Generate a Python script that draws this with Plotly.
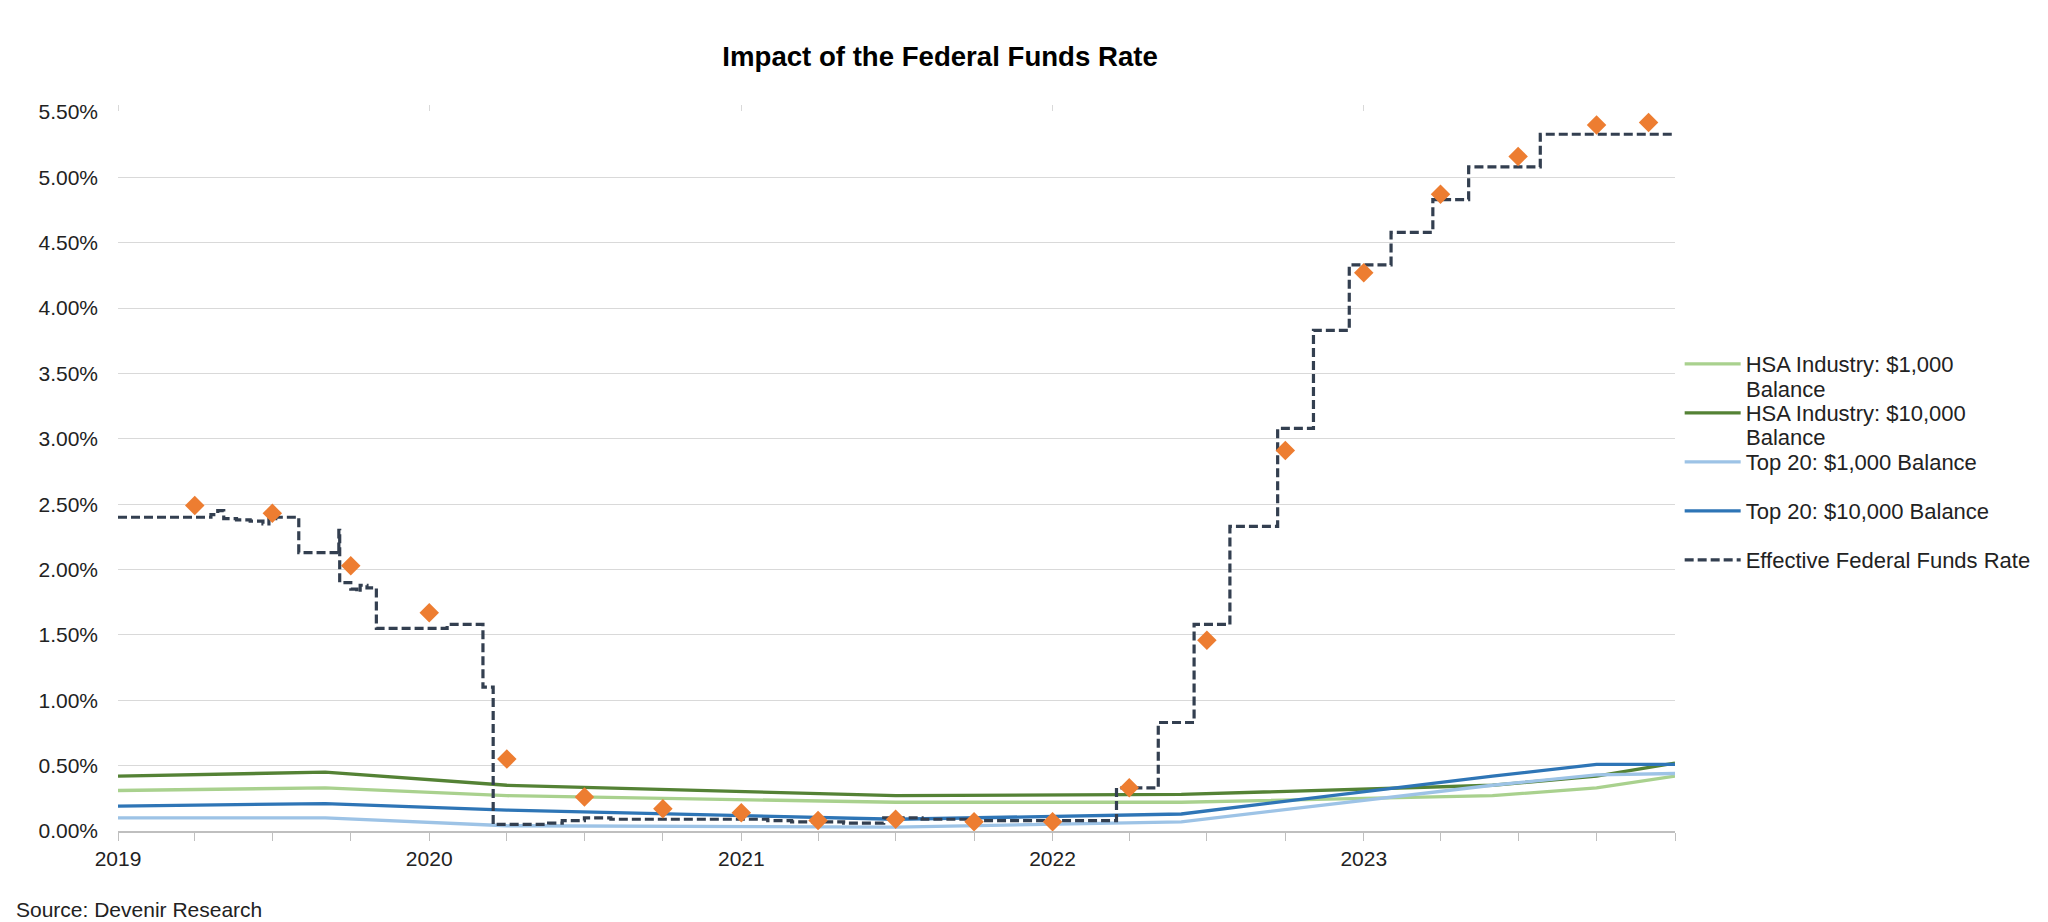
import plotly.graph_objects as go

# ---------------- data ----------------
effr_dates = ["2019-01-01", "2019-04-20", "2019-04-28", "2019-05-05", "2019-05-20", "2019-06-05",
              "2019-06-20", "2019-06-27", "2019-07-05", "2019-08-01", "2019-09-16", "2019-09-17",
              "2019-09-18", "2019-10-01", "2019-10-08", "2019-10-12", "2019-10-20", "2019-10-31",
              "2020-01-22", "2020-03-04", "2020-03-16", "2020-05-20", "2020-06-05", "2020-07-01",
              "2020-08-01", "2021-01-01", "2021-02-01", "2021-03-01", "2021-05-01", "2021-06-17",
              "2021-08-01", "2021-10-01", "2022-03-17", "2022-05-05", "2022-06-16", "2022-07-28",
              "2022-09-22", "2022-11-03", "2022-12-15", "2023-02-02", "2023-03-23", "2023-05-04",
              "2023-07-27", "2024-01-01"]
effr_values = [2.40, 2.42, 2.45, 2.39, 2.38, 2.37,
               2.35, 2.39, 2.40, 2.13, 2.12, 2.30,
               1.90, 1.85, 1.83, 1.88, 1.86, 1.55,
               1.58, 1.10, 0.05, 0.06, 0.08, 0.10,
               0.09, 0.09, 0.08, 0.07, 0.06, 0.10,
               0.09, 0.08, 0.33, 0.83, 1.58, 2.33,
               3.08, 3.83, 4.33, 4.58, 4.83, 5.08,
               5.33, 5.33]

diamond_dates = ["2019-04-01", "2019-07-01", "2019-10-01", "2020-01-01", "2020-04-01", "2020-07-01",
                 "2020-10-01", "2021-01-01", "2021-04-01", "2021-07-01", "2021-10-01", "2022-01-01",
                 "2022-04-01", "2022-07-01", "2022-10-01", "2023-01-01", "2023-04-01", "2023-07-01",
                 "2023-10-01", "2023-12-01"]
diamond_values = [2.49, 2.43, 2.03, 1.67, 0.55, 0.26,
                  0.17, 0.14, 0.08, 0.09, 0.07, 0.07,
                  0.33, 1.46, 2.91, 4.27, 4.87, 5.16,
                  5.40, 5.42]

hsa_dates = ["2019-01-01", "2019-09-01", "2020-04-01", "2021-07-01", "2022-06-01",
             "2023-06-01", "2023-10-01", "2024-01-01"]
hsa_1k = [0.31, 0.33, 0.27, 0.22, 0.22, 0.27, 0.33, 0.42]
hsa_10k = [0.42, 0.45, 0.35, 0.27, 0.28, 0.35, 0.42, 0.52]
top20_1k = [0.10, 0.10, 0.04, 0.03, 0.07, 0.35, 0.43, 0.44]
top20_10k = [0.19, 0.21, 0.16, 0.09, 0.13, 0.42, 0.51, 0.51]

# legend labels (the first two wrap onto a second line, "Balance")
series_names = ["HSA Industry: $1,000", "HSA Industry: $10,000",
                "Top 20: $1,000 Balance", "Top 20: $10,000 Balance",
                "Effective Federal Funds Rate"]
wrap_lines = ["Balance", "Balance"]
series_colors = ["#a9d18e", "#548235", "#9dc3e6", "#2e75b6", "#333f50"]

year_ticks = ["2019-01-01", "2020-01-01", "2021-01-01", "2022-01-01", "2023-01-01"]
year_labels = ["2019", "2020", "2021", "2022", "2023"]

FONT = "Liberation Sans, Arial, sans-serif"
legend_ids = ["legend", "legend2", "legend3", "legend4", "legend5"]
legend_tops = [0.6787, 0.6106, 0.5424, 0.4743, 0.4061]
wrap_line_y = [0.6147, 0.5466]

fig = go.Figure()
for i, (name, vals, col) in enumerate(zip(series_names[:4], [hsa_1k, hsa_10k, top20_1k, top20_10k],
                                          series_colors[:4])):
    fig.add_trace(go.Scatter(x=hsa_dates, y=vals, mode="lines", name=name, legend=legend_ids[i],
                             line=dict(color=col, width=3.3), hoverinfo="skip"))

fig.add_trace(go.Scatter(x=effr_dates, y=effr_values, mode="lines", name=series_names[4],
                         legend=legend_ids[4],
                         line=dict(color=series_colors[4], width=3.2, dash="9px,4px", shape="hv"),
                         hoverinfo="skip"))

fig.add_trace(go.Scatter(x=diamond_dates, y=diamond_values, mode="markers", showlegend=False,
                         marker=dict(symbol="diamond", size=15, color="#ed7d31"),
                         cliponaxis=False, hoverinfo="skip"))

# invisible trace to activate the top axis (yearly ticks at top)
fig.add_trace(go.Scatter(x=[year_ticks[0]], y=[None], xaxis="x2", showlegend=False,
                         hoverinfo="skip", mode="lines"))

legend_style = dict(x=1.003, xanchor="left", yanchor="top", valign="top",
                    font=dict(family=FONT, size=22, color="#222222"), bgcolor="rgba(0,0,0,0)",
                    itemwidth=56)
legends = {lid: dict(legend_style, y=yt) for lid, yt in zip(legend_ids, legend_tops)}

annotations = [dict(text="Source: Devenir Research", xref="paper", yref="paper",
                    x=-0.0668, y=-0.1085, xanchor="left", yanchor="middle", showarrow=False,
                    font=dict(family=FONT, size=21, color="#222222"))]
for txt, yy in zip(wrap_lines, wrap_line_y):
    annotations.append(dict(text=txt, xref="paper", yref="paper", x=1.0444, y=yy,
                            xanchor="left", yanchor="middle", showarrow=False,
                            font=dict(family=FONT, size=22, color="#222222")))

fig.update_layout(
    width=2040, height=914,
    paper_bgcolor="white", plot_bgcolor="white",
    margin=dict(l=110, r=358, t=104, b=91),
    font=dict(family=FONT, size=21, color="#222222"),
    title=dict(text="<b>Impact of the Federal Funds Rate</b>", x=0.4569, xref="container",
               xanchor="center", y=0.9475, yref="container", yanchor="middle",
               font=dict(family=FONT, size=27.6, color="#000000")),
    xaxis=dict(type="date", range=["2019-01-01", "2024-01-01"],
               tickvals=year_ticks, ticktext=year_labels,
               ticks="outside", ticklen=8, tickcolor="#bfbfbf", tickwidth=1.3,
               minor=dict(dtick="M3", tick0="2019-01-01", ticks="outside", ticklen=8,
                          tickcolor="#bfbfbf", tickwidth=1.3, showgrid=False),
               showgrid=False, showline=True, linecolor="#bfbfbf", linewidth=1.8,
               zeroline=False, tickfont=dict(size=21, color="#222222")),
    xaxis2=dict(type="date", range=["2019-01-01", "2024-01-01"], overlaying="x", side="top",
                tickvals=year_ticks, showticklabels=False, ticks="outside", ticklen=6,
                tickcolor="#d9d9d9", tickwidth=1.3, showgrid=False, showline=False, zeroline=False),
    yaxis=dict(range=[0, 5.5001], dtick=0.5, tick0=0, tickformat=".2f", ticksuffix="%",
               showgrid=True, gridcolor="#d9d9d9", gridwidth=1.4, zeroline=False,
               showline=False, ticks="", ticklabelstandoff=19,
               tickfont=dict(size=21, color="#222222")),
    annotations=annotations,
    **legends,
)

fig.write_html("out.html")
